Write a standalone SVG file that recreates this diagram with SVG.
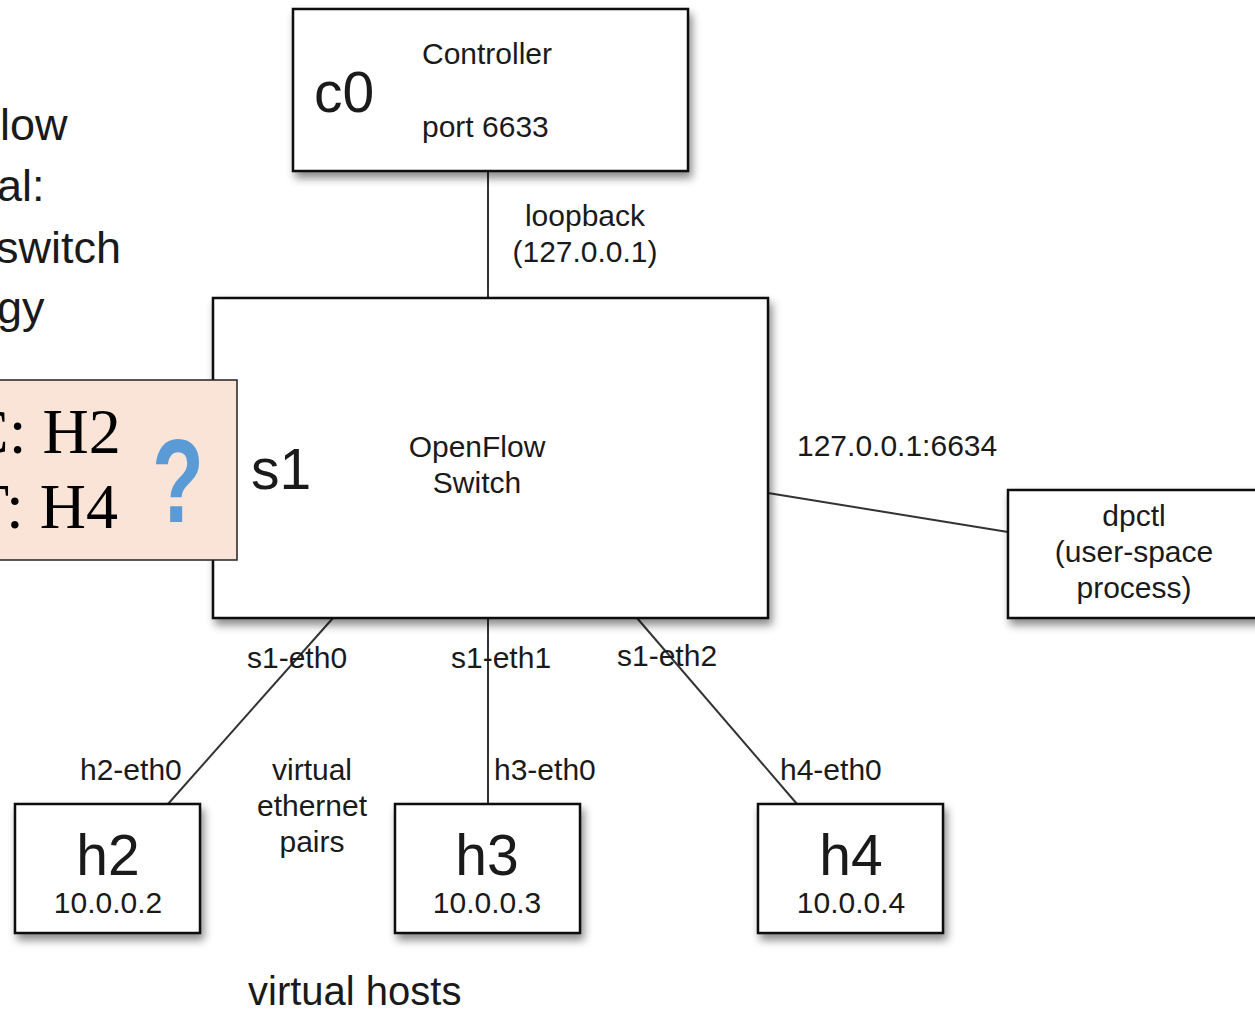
<svg xmlns="http://www.w3.org/2000/svg" width="1255" height="1011" viewBox="0 0 1255 1011">
<style>
.box{fill:#fff;stroke:#111;stroke-width:2.5;filter:url(#sh)}
.t{font-family:"Liberation Sans",Arial,sans-serif;fill:#1a1a1a}
.s30{font-size:30px}
.big{font-size:57px}
.c{text-anchor:middle}
.ln{stroke:#333;stroke-width:2;fill:none}
.serif{font-family:"Liberation Serif","Times New Roman",serif;font-size:64px;fill:#000}
</style>
<defs>
<filter id="sh" x="-10%" y="-10%" width="130%" height="140%">
<feDropShadow dx="3" dy="6" stdDeviation="4" flood-color="#000" flood-opacity="0.45"/>
</filter>
</defs>
<rect width="1255" height="1011" fill="#fff"/>
<g id="title">
<text class="t" font-size="45" x="0" y="140">low</text>
<text class="t" font-size="45" x="-3" y="201">al:</text>
<text class="t" font-size="45" x="-4" y="263">switch</text>
<text class="t" font-size="45" x="-3" y="323">gy</text>
</g>
<g id="connectors">
<line class="ln" x1="488" y1="171" x2="488" y2="298"/>
<line class="ln" x1="768" y1="493" x2="1008" y2="532"/>
<line class="ln" x1="333" y1="618" x2="168" y2="804"/>
<line class="ln" x1="488" y1="618" x2="488" y2="804"/>
<line class="ln" x1="637" y1="618" x2="797" y2="804"/>
<text class="t s30 c" x="585" y="226">loopback</text>
<text class="t s30 c" x="585" y="262">(127.0.0.1)</text>
<text class="t s30" x="797" y="456">127.0.0.1:6634</text>
<text class="t s30" x="247" y="668">s1-eth0</text>
<text class="t s30" x="451" y="668">s1-eth1</text>
<text class="t s30" x="617" y="666">s1-eth2</text>
<text class="t s30" x="80" y="780">h2-eth0</text>
<text class="t s30" x="494" y="780">h3-eth0</text>
<text class="t s30" x="780" y="780">h4-eth0</text>
<text class="t s30 c" x="312" y="780">virtual</text>
<text class="t s30 c" x="312" y="816">ethernet</text>
<text class="t s30 c" x="312" y="852">pairs</text>
</g>
<g id="c0">
<rect class="box" x="293" y="9" width="395" height="162"/>
<text class="t big" x="314" y="112">c0</text>
<text class="t s30" x="422" y="64">Controller</text>
<text class="t s30" x="422" y="137">port 6633</text>
</g>
<g id="s1">
<rect class="box" x="213" y="298" width="555" height="320"/>
<text class="t big" x="251" y="489">s1</text>
<text class="t s30 c" x="477" y="457">OpenFlow</text>
<text class="t s30 c" x="477" y="493">Switch</text>
</g>
<g id="note">
<rect x="-10" y="380" width="247" height="180" fill="#fae4d7" stroke="#222" stroke-width="1.5"/>
<text class="serif" x="-34" y="453">C: H2</text>
<text class="serif" x="-30" y="528">T: H4</text>
<text x="178" y="522" font-family="Liberation Sans,Arial,sans-serif" font-weight="bold" font-size="118" fill="#5b9bd5" text-anchor="middle" transform="translate(178,0) scale(0.72,1) translate(-178,0)">?</text>
</g>
<g id="dpctl">
<rect class="box" x="1008" y="490" width="260" height="128"/>
<text class="t s30 c" x="1134" y="526">dpctl</text>
<text class="t s30 c" x="1134" y="562">(user-space</text>
<text class="t s30 c" x="1134" y="598">process)</text>
</g>
<g id="h2">
<rect class="box" x="15" y="804" width="185" height="129"/>
<text class="t big c" x="108" y="875">h2</text>
<text class="t s30 c" x="108" y="913">10.0.0.2</text>
</g>
<g id="h3">
<rect class="box" x="395" y="804" width="185" height="129"/>
<text class="t big c" x="487" y="875">h3</text>
<text class="t s30 c" x="487" y="913">10.0.0.3</text>
</g>
<g id="h4">
<rect class="box" x="758" y="804" width="185" height="129"/>
<text class="t big c" x="851" y="875">h4</text>
<text class="t s30 c" x="851" y="913">10.0.0.4</text>
</g>
<g id="hosts-label">
<text class="t" font-size="40" x="248" y="1005">virtual hosts</text>
</g>
</svg>
